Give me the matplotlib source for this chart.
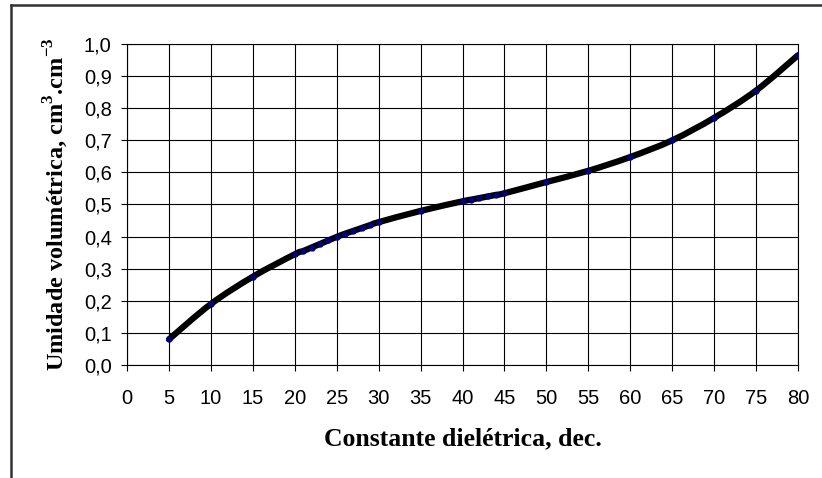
import matplotlib
matplotlib.use("Agg")
import matplotlib.pyplot as plt
from matplotlib.lines import Line2D
from matplotlib.path import Path
from matplotlib.patches import PathPatch
from matplotlib.ticker import FuncFormatter, MultipleLocator

plt.rcParams['mathtext.fontset'] = 'custom'
plt.rcParams['mathtext.rm'] = 'Liberation Serif:bold'
plt.rcParams['mathtext.bf'] = 'Liberation Serif:bold'

constante = [5, 10, 15, 20, 21, 22, 23, 24, 25, 26, 27, 28, 29, 30, 35,
             40, 41, 42, 43, 44, 45, 50, 55, 60, 65, 70, 75, 80]
umidade = [0.080, 0.190, 0.275, 0.345, 0.355, 0.366, 0.377, 0.388, 0.399,
           0.409, 0.418, 0.427, 0.436, 0.445, 0.480,
           0.510, 0.515, 0.520, 0.525, 0.530, 0.535, 0.570, 0.605, 0.648,
           0.700, 0.770, 0.855, 0.965]

fig = plt.figure(figsize=(8.22, 4.78), dpi=100)
ax = fig.add_axes([127/822, 1 - 365/478, (798-127)/822, (365-44)/478])

# smoothed line (Excel-style Bezier through the data points)
pts = list(zip(constante, umidade))
verts = [pts[0]]
codes = [Path.MOVETO]
n = len(pts)
for i in range(n - 1):
    p0 = pts[i - 1] if i > 0 else pts[i]
    p1 = pts[i]
    p2 = pts[i + 1]
    p3 = pts[i + 2] if i + 2 < n else pts[i + 1]
    c1 = (p1[0] + (p2[0] - p0[0]) / 6, p1[1] + (p2[1] - p0[1]) / 6)
    c2 = (p2[0] - (p3[0] - p1[0]) / 6, p2[1] - (p3[1] - p1[1]) / 6)
    verts += [c1, c2, p2]
    codes += [Path.CURVE4] * 3
ax.add_patch(PathPatch(Path(verts, codes), facecolor='none', edgecolor='black',
                       lw=4.5, capstyle='round', joinstyle='round', zorder=3))
ax.plot(constante, umidade, ls='none', marker='o', ms=3.5, color='#000080', zorder=4)

ax.set_xlim(0, 80)
ax.set_ylim(0, 1.0)
ax.xaxis.set_major_locator(MultipleLocator(5))
ax.yaxis.set_major_locator(MultipleLocator(0.1))
ax.yaxis.set_major_formatter(FuncFormatter(lambda v, p: f"{v:.1f}".replace('.', ',')))
ax.grid(True, color='black', lw=0.8)
ax.set_axisbelow(True)
for s in ax.spines.values():
    s.set_color('black')
    s.set_linewidth(0.8)
ax.tick_params(direction='out', length=4, width=0.8, color='black',
               labelsize=14.5, pad=7)
for lbl in ax.get_xticklabels() + ax.get_yticklabels():
    lbl.set_fontfamily('Liberation Sans')
ax.tick_params(axis='x', pad=13)

ax.set_xlabel('Constante dielétrica, dec.', fontfamily='Liberation Serif',
              fontweight='bold', fontsize=18.5, labelpad=14)
ax.set_ylabel(r'Umidade volumétrica, cm$^{3}$.cm$^{-3}$', fontfamily='Liberation Serif',
              fontweight='bold', fontsize=17.5, labelpad=10)

# outer frame (partial, as in the reference crop)
fig.add_artist(Line2D([11/822, 11/822], [0, 1 - 5/478], transform=fig.transFigure,
                      color='#333333', lw=1.8))
fig.add_artist(Line2D([11/822, 1], [1 - 5/478, 1 - 5/478], transform=fig.transFigure,
                      color='#333333', lw=1.8))

fig.savefig('out.png', dpi=100)
